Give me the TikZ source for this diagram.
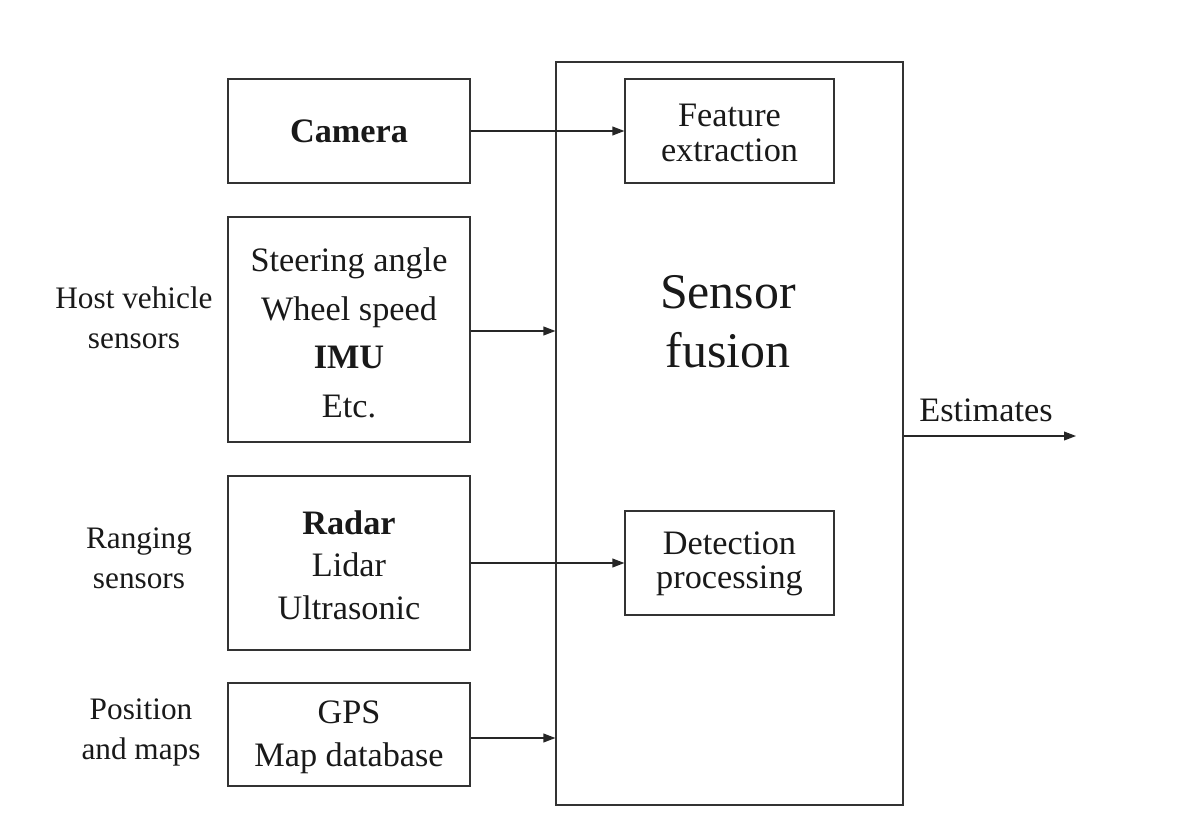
\documentclass[tikz,border=0pt]{standalone}
\usepackage{fontspec}
\setmainfont{Liberation Serif}
\usetikzlibrary{arrows.meta}
\begin{document}
\begin{tikzpicture}[x=0.02cm,y=-0.02cm,
  line width=0.7pt, draw=black!85,
  box/.style={draw=black!80, line width=0.7pt, inner sep=0pt, align=center, text=black!90},
  arr/.style={draw=black!85, line width=0.7pt, -{Triangle[length=6.8pt,width=5pt]}},
  lab/.style={align=center, text=black!90, font=\fontsize{17.8}{22.8}\selectfont}]
\useasboundingbox (0,0) rectangle (1192,834);
% big box
\node[box, minimum width=6.94cm, minimum height=14.86cm] (big) at (729.5,433.5) {};
\node[text=black!90, align=center, font=\fontsize{28.4}{33.6}\selectfont] (sf) at (728,322) {Sensor\\fusion};
% inner boxes
\node[box, minimum width=4.18cm, minimum height=2.08cm] (feat) at (729.5,131) {};
\node[text=black!90, align=center, font=\fontsize{19.5}{19.5}\selectfont] (featt) at (729.5,133) {Feature\\extraction};
\node[box, minimum width=4.18cm, minimum height=2.08cm] (det) at (729.5,563) {};
\node[text=black!90, align=center, font=\fontsize{19.5}{19.5}\selectfont] (dett) at (729.5,564) {Detection\\processing};
% sensor boxes
\node[box, minimum width=4.84cm, minimum height=2.08cm, font=\fontsize{19.5}{27.3}\selectfont] (cam) at (349,131) {\textbf{Camera}};
\node[box, minimum width=4.84cm, minimum height=4.50cm] (host) at (349,329.5) {};
\node[text=black!90, align=center, font=\fontsize{19.5}{27.6}\selectfont] (hostt) at (349,333) {Steering angle\\Wheel speed\\\textbf{IMU}\\Etc.};
\node[box, minimum width=4.84cm, minimum height=3.48cm] (radar) at (349,563) {};
\node[text=black!90, align=center, font=\fontsize{19.5}{24.2}\selectfont] (radart) at (349,565) {\textbf{Radar}\\Lidar\\Ultrasonic};
\node[box, minimum width=4.84cm, minimum height=2.06cm] (gps) at (349,734.5) {};
\node[text=black!90, align=center, font=\fontsize{19.5}{24.5}\selectfont] (gpst) at (349,737) {GPS\\Map database};
% side labels
\node[lab] (lhost) at (134,318) {Host vehicle\\sensors};
\node[lab] (lrange) at (139,558) {Ranging\\sensors};
\node[lab] (lpos) at (141,732) {Position\\and maps};
% arrows
\draw[arr] (cam.east) -- (feat.west);
\draw[arr] ([yshift=-1.5*0.02cm]host.east) -- ([yshift=-1.5*0.02cm]host.east -| big.west);
\draw[arr] (radar.east) -- (det.west);
\draw[arr] ([yshift=-3.5*0.02cm]gps.east) -- ([yshift=-3.5*0.02cm]gps.east -| big.west);
\coordinate (estend) at (1076,436);
\draw[arr] (estend -| big.east) -- (estend);
\node[text=black!90, font=\fontsize{19.5}{23}\selectfont, anchor=base] (est) at (986,421) {Estimates};
\end{tikzpicture}
\end{document}
